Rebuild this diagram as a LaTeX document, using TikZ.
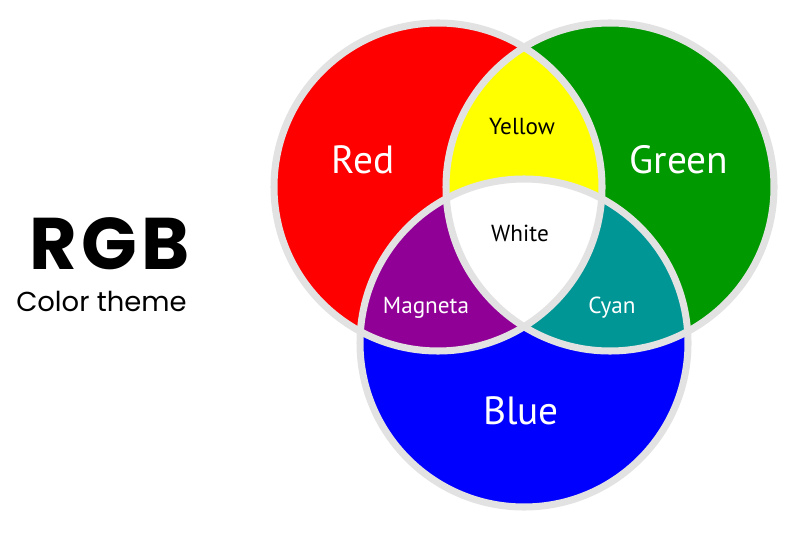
\documentclass[tikz,border=0pt]{standalone}
\usepackage{fontspec}
\setmainfont{PT Sans}
\newfontfamily\headfont{Poppins}[LetterSpace=6]
\newfontfamily\subfont{Poppins}
\definecolor{rgbred}{RGB}{255,0,0}
\definecolor{rgbgreen}{RGB}{0,153,0}
\definecolor{rgbblue}{RGB}{0,0,255}
\definecolor{rgbyellow}{RGB}{255,255,0}
\definecolor{rgbmagenta}{RGB}{145,0,150}
\definecolor{rgbcyan}{RGB}{0,150,150}
\definecolor{rimgray}{RGB}{226,226,226}

\begin{document}
\begin{tikzpicture}[x=0.025cm, y=0.025cm,
    rim/.style={draw=rimgray, line width=5pt},
    biglabel/.style={text=white, anchor=base, font=\fontsize{28}{30}\selectfont},
    smalllabel/.style={anchor=base, font=\fontsize{16.5}{18}\selectfont}]
  \useasboundingbox (0,0) rectangle (800,533);
  \coordinate (r) at (438,346);
  \coordinate (g) at (610,346);
  \coordinate (b) at (524,190);

  % primaries
  \fill[rgbred] (r) circle [radius=164];
  \fill[rgbgreen] (g) circle [radius=164];
  \fill[rgbblue] (b) circle [radius=164];
  % mixes
  \begin{scope}
    \clip (r) circle [radius=164];
    \fill[rgbyellow] (g) circle [radius=164];
    \fill[rgbmagenta] (b) circle [radius=164];
  \end{scope}
  \begin{scope}
    \clip (g) circle [radius=164];
    \fill[rgbcyan] (b) circle [radius=164];
    \clip (r) circle [radius=164];
    \fill[white] (b) circle [radius=164];
  \end{scope}
  \draw[rim] (r) circle [radius=164];
  \draw[rim] (g) circle [radius=164];
  \draw[rim] (b) circle [radius=164];

  \node[biglabel] (redlbl) at (363,359) {Red};
  \node[biglabel] (greenlbl) at (679,359) {Green};
  \node[biglabel] (bluelbl) at (521,109) {Blue};
  \node[smalllabel] (yellowlbl) at (522,398) {Yellow};
  \node[smalllabel] (whitelbl) at (520,291) {White};
  \node[smalllabel, text=white] (magentalbl) at (426,219) {Magneta};
  \node[smalllabel, text=white] (cyanlbl) at (612,219) {Cyan};

  \node[anchor=base west, inner sep=0pt, font=\headfont\bfseries\fontsize{52}{54}\selectfont] (title) at (29,263) {RGB};
  \node[anchor=base west, inner sep=0pt, font=\subfont\fontsize{19.5}{21}\selectfont] (subtitle) at (16,221) {Color theme};
\end{tikzpicture}
\end{document}
